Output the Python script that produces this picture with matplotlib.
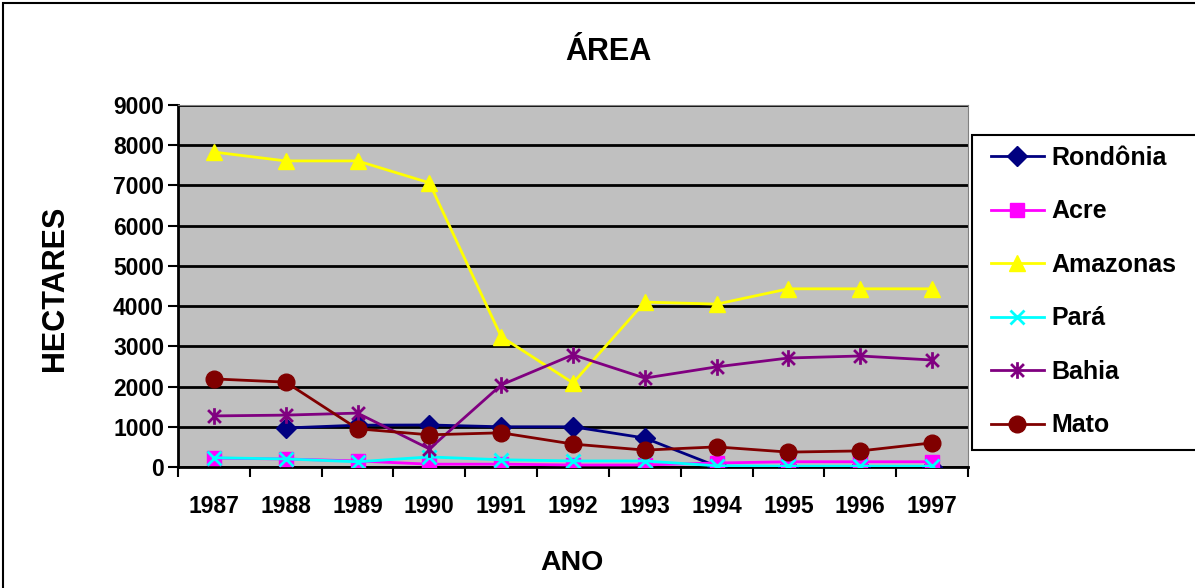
import matplotlib.pyplot as plt
import numpy as np
from matplotlib.path import Path
from matplotlib.patches import Rectangle

plt.rcParams['font.family'] = ['Liberation Sans', 'DejaVu Sans']
plt.rcParams['font.weight'] = 'bold'

anos = ['1987', '1988', '1989', '1990', '1991', '1992', '1993', '1994', '1995', '1996', '1997']

rondonia = [np.nan, 970, 1040, 1045, 1000, 1000, 720, 20, 0, 0, 0]
acre = [220, 200, 150, 70, 70, 50, 50, 100, 130, 130, 130]
amazonas = [7830, 7610, 7610, 7065, 3240, 2090, 4100, 4050, 4430, 4430, 4430]
para = [230, 200, 130, 250, 180, 150, 150, 30, 20, 20, 20]
bahia = [1270, 1290, 1340, 450, 2040, 2790, 2210, 2490, 2710, 2760, 2660]
mato = [2190, 2110, 950, 800, 850, 570, 420, 500, 370, 400, 600]

# excel style star: x with a vertical bar
star = Path([(-1, -1), (1, 1), (-1, 1), (1, -1), (0, -1.3), (0, 1.3)],
            [Path.MOVETO, Path.LINETO, Path.MOVETO, Path.LINETO, Path.MOVETO, Path.LINETO])

series = [
    ('Rondônia', rondonia, '#000080', 'D', 10),
    ('Acre', acre, '#FF00FF', 's', 10),
    ('Amazonas', amazonas, '#FFFF00', '^', 11),
    ('Pará', para, '#00FFFF', 'x', 10),
    ('Bahia', bahia, '#800080', star, 12),
    ('Mato', mato, '#800000', 'o', 12),
]

fig = plt.figure(figsize=(11.95, 5.88), dpi=100)
ax = fig.add_axes([178 / 1195, 1 - 467 / 588, (968 - 178) / 1195, (467 - 105) / 588])
ax.set_facecolor('#C0C0C0')

x = np.arange(len(anos))
for name, vals, col, mk, ms in series:
    ax.plot(x, vals, color=col, linewidth=2, marker=mk, markersize=ms,
            markeredgewidth=2 if mk in ('x', star) else 1, markeredgecolor=col,
            label=name, zorder=3)

ax.set_xlim(-0.5, len(anos) - 0.5)
ax.set_ylim(0, 9000)
ax.set_yticks(np.arange(0, 9001, 1000))
ax.set_xticks(x)
ax.set_xticklabels(anos)
ax.set_xticks(np.arange(-0.5, len(anos), 1), minor=True)
ax.tick_params(axis='x', which='major', length=0, pad=20, labelsize=16.5)
ax.tick_params(axis='x', which='minor', length=7, width=1.5, direction='out')
ax.tick_params(axis='y', length=7, width=1.5, direction='out', labelsize=16.5, pad=3)
ax.grid(axis='y', color='black', linewidth=2, zorder=1)
ax.set_axisbelow(True)

ax.spines['left'].set_linewidth(2)
ax.spines['bottom'].set_linewidth(2)
ax.spines['top'].set_color('#808080')
ax.spines['right'].set_color('#808080')

fig.text(608 / 1195, 1 - 52 / 588, 'ÁREA', ha='center', va='center', fontsize=22, fontweight='bold')
fig.text(55 / 1195, 1 - 288 / 588, 'HECTARES', ha='center', va='center', rotation=90,
         fontsize=22, fontweight='bold')
fig.text(572 / 1195, 1 - 563 / 588, 'ANO', ha='center', va='center', fontsize=20.5, fontweight='bold')

# legend box drawn separately (clipped by the right edge like the original)
fig.patches.append(Rectangle((972 / 1195, 1 - 450 / 588), 0.2, (450 - 135) / 588,
                             transform=fig.transFigure, facecolor='white',
                             edgecolor='black', linewidth=1.5, zorder=5))
leg = fig.legend(loc='upper left', bbox_to_anchor=(991 / 1195, 1 - 146 / 588),
                 fontsize=18, frameon=False, labelspacing=1.18,
                 handlelength=2.1, handletextpad=0.3, borderpad=0, borderaxespad=0)
leg.set_zorder(6)

fig.patches.append(Rectangle((3 / 1195, -0.05), 1.1, 1.05 - 3 / 588,
                             transform=fig.transFigure, fill=False,
                             edgecolor='black', linewidth=1.5))

fig.savefig('out.png', dpi=100)
